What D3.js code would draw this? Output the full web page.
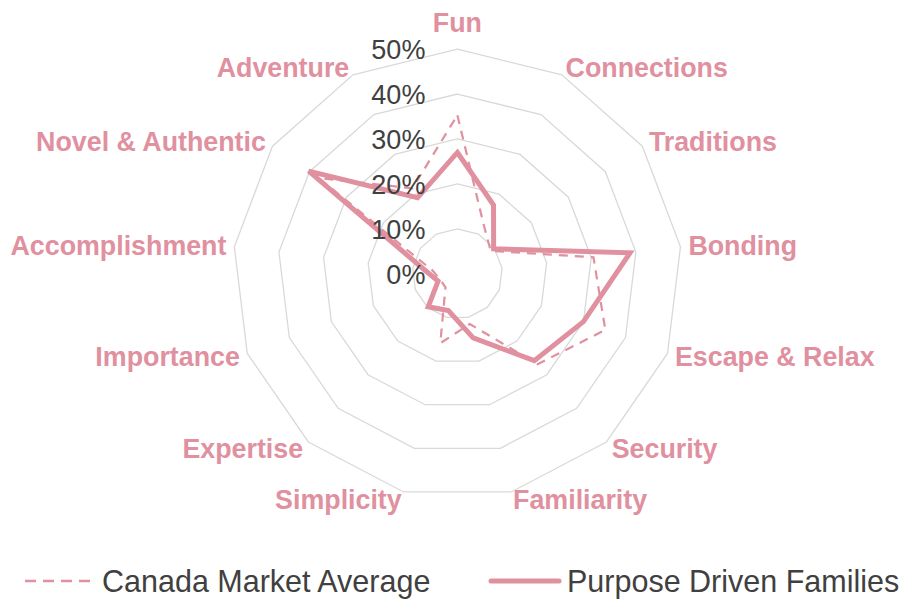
<!DOCTYPE html>
<html>
<head>
<meta charset="utf-8">
<script src="https://cdn.jsdelivr.net/npm/d3@7/dist/d3.min.js"></script>
<style>
  body { margin: 0; background: #fff; }
  svg { display: block; font-family: "Liberation Sans", Arial, sans-serif; }
  .ring { fill: none; stroke: #d9d9d9; stroke-width: 1.3; }
  .tick-label { fill: #404040; font-size: 27px; }
  .cat-label { fill: #e0909f; font-size: 26.8px; font-weight: bold; }
  .legend-text { fill: #404040; font-size: 30.5px; }
</style>
</head>
<body>
<script>
// Radar chart: Canada market average vs Purpose Driven Families

var categories = ["Fun", "Connections", "Traditions", "Bonding", "Escape & Relax", "Security",
    "Familiarity", "Simplicity", "Expertise", "Importance", "Accomplishment", "Novel & Authentic", "Adventure"];
var canadaAvg = [35.3, 12.5, 9.0, 30.5, 35.2, 26.9, 11.5, 15.9, 4.0, 4.0, 5.5, 37.5, 21.5];
var purposeDriven = [27.0, 17.3, 9.8, 38.7, 30.0, 25.8, 14.7, 8.4, 9.8, 4.6, 7.4, 40.2, 19.1];
var ticks = [0, 10, 20, 30, 40, 50];
var seriesNames = ["Canada Market Average", "Purpose Driven Families"];

var w = 913, h = 600;
var cx = 457.4, cy = 273.8;
var R = 224.7;
var pink = "#e0909f";

var svg = d3.select("body").append("svg")
    .attr("width", w)
    .attr("height", h);

var g = svg.append("g")
    .attr("transform", "translate(" + cx + "," + cy + ")");

var r = d3.scaleLinear().domain([0, 50]).range([0, R]);
var angle = d3.scaleLinear().domain([0, categories.length]).range([0, 2 * Math.PI]);

// Grid rings (no spokes)
var ringLine = d3.lineRadial()
    .angle(function(d, i) { return angle(i); })
    .radius(function(d) { return r(d); })
    .curve(d3.curveLinearClosed);

ticks.slice(1).forEach(function(t) {
    g.append("path")
        .attr("class", "ring")
        .attr("d", ringLine(categories.map(function() { return t; })));
});

// Series
var seriesLine = d3.lineRadial()
    .angle(function(d, i) { return angle(i); })
    .radius(function(d) { return r(d); })
    .curve(d3.curveLinearClosed);

g.append("path")
    .attr("d", seriesLine(canadaAvg))
    .attr("fill", "none")
    .attr("stroke", pink)
    .attr("stroke-width", 2.2)
    .attr("stroke-dasharray", "9,7");

g.append("path")
    .attr("d", seriesLine(purposeDriven))
    .attr("fill", "none")
    .attr("stroke", pink)
    .attr("stroke-width", 5);

// Value axis labels, along the top spoke
ticks.forEach(function(t) {
    g.append("text")
        .attr("class", "tick-label")
        .attr("x", -32)
        .attr("y", -r(t))
        .attr("dy", "0.36em")
        .attr("text-anchor", "end")
        .text(t + "%");
});

// Category labels
categories.forEach(function(c, i) {
    var a = angle(i);
    var s = Math.sin(a), co = Math.cos(a);
    var x = (R + 8) * s;
    var y = -(R + 8) * co;
    var anchor = "middle";
    if (s > 0.01) anchor = "start";
    if (s < -0.01) anchor = "end";
    if (anchor === "middle") y -= 19;
    g.append("text")
        .attr("class", "cat-label")
        .attr("x", x)
        .attr("y", y)
        .attr("dy", "0.36em")
        .attr("text-anchor", anchor)
        .text(c);
});

// Legend
var legendY = 581;
svg.append("line")
    .attr("x1", 25).attr("x2", 91)
    .attr("y1", legendY).attr("y2", legendY)
    .attr("stroke", pink)
    .attr("stroke-width", 2.5)
    .attr("stroke-dasharray", "11,7");

svg.append("text")
    .attr("class", "legend-text")
    .attr("x", 102)
    .attr("y", legendY)
    .attr("dy", "0.36em")
    .text(seriesNames[0]);

svg.append("line")
    .attr("x1", 491).attr("x2", 559)
    .attr("y1", legendY).attr("y2", legendY)
    .attr("stroke", pink)
    .attr("stroke-width", 5)
    .attr("stroke-linecap", "round");

svg.append("text")
    .attr("class", "legend-text")
    .attr("x", 567)
    .attr("y", legendY)
    .attr("dy", "0.36em")
    .text(seriesNames[1]);
</script>
</body>
</html>
